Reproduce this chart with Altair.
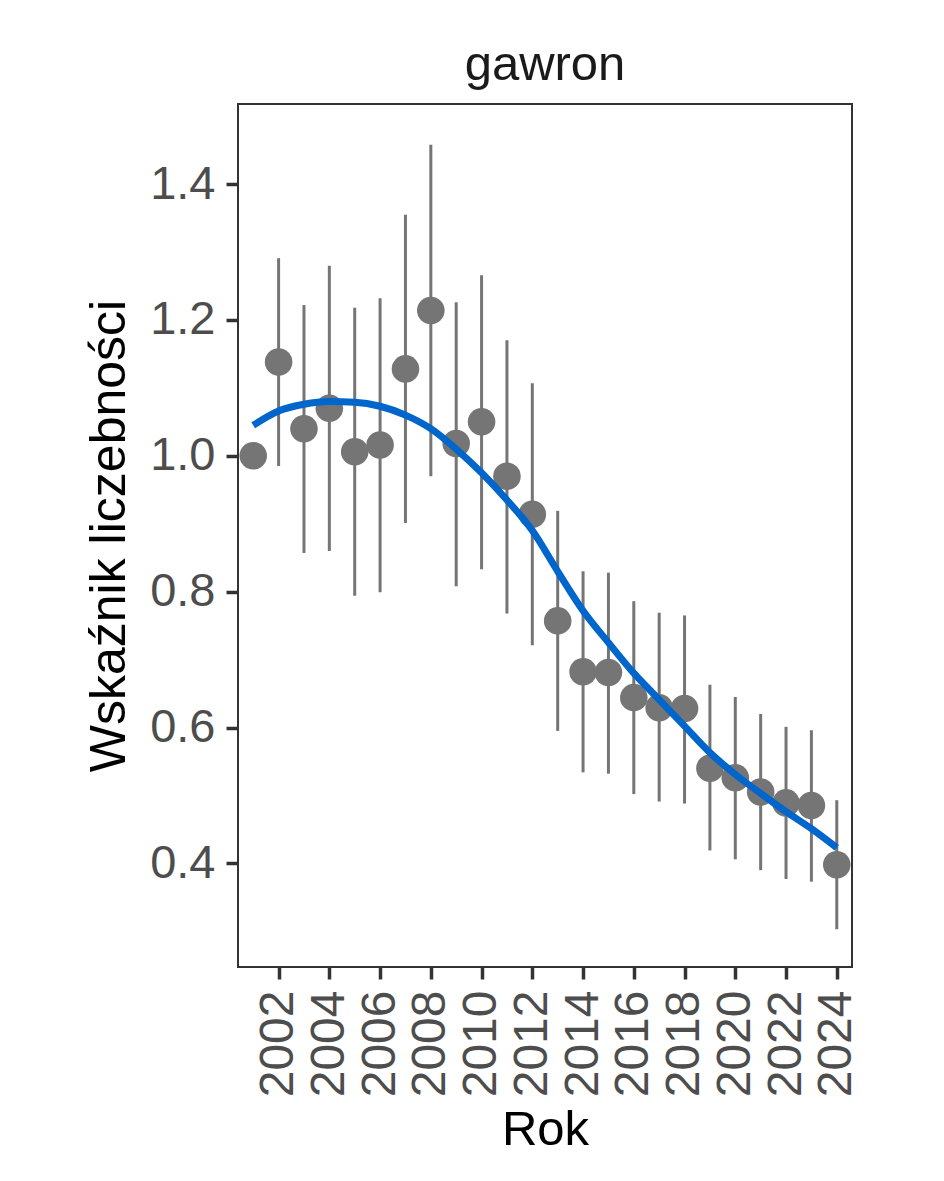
import altair as alt
import pandas as pd

years = list(range(2001, 2025))
index_vals = [1.000, 1.138, 1.040, 1.070, 1.006, 1.016, 1.128, 1.214, 1.018, 1.050,
              0.970, 0.914, 0.757, 0.682, 0.681, 0.644, 0.629, 0.628, 0.540, 0.526,
              0.505, 0.489, 0.485, 0.398]
lower = [None, 0.985, 0.857, 0.860, 0.794, 0.799, 0.901, 0.970, 0.808, 0.833,
         0.768, 0.721, 0.595, 0.534, 0.532, 0.502, 0.491, 0.488, 0.419, 0.406,
         0.390, 0.377, 0.373, 0.303]
upper = [None, 1.291, 1.222, 1.280, 1.218, 1.232, 1.355, 1.458, 1.226, 1.266,
         1.170, 1.107, 0.919, 0.830, 0.828, 0.786, 0.769, 0.765, 0.663, 0.645,
         0.620, 0.601, 0.596, 0.493]
trend = [1.045, 1.066, 1.076, 1.080, 1.079, 1.073, 1.060, 1.040, 1.010, 0.975,
         0.935, 0.890, 0.830, 0.772, 0.725, 0.680, 0.641, 0.602, 0.563, 0.531,
         0.503, 0.476, 0.451, 0.423]
x_ticks = list(range(2002, 2025, 2))
y_ticks = [0.4, 0.6, 0.8, 1.0, 1.2, 1.4]

df = pd.DataFrame({"Rok": years, "val": index_vals, "lo": lower, "hi": upper, "trend": trend})
bars_df = df.dropna(subset=["lo", "hi"])

FONT = "Liberation Sans"
GREY = "#757575"

xs = alt.Scale(domain=[2000.4, 2024.6], nice=False, zero=False)
ys = alt.Scale(domain=[0.2474, 1.518], nice=False, zero=False)

x_axis = alt.Axis(values=x_ticks, format="d", labelAngle=-90, title="Rok",
                  grid=False, domain=False, tickSize=12, tickWidth=3.5, tickColor="#333333",
                  labelFontSize=48, labelColor="#4D4D4D", labelFont=FONT, labelPadding=11,
                  titleFontSize=49, titleColor="#000000", titleFont=FONT, titleFontWeight="normal",
                  titlePadding=9)
y_axis = alt.Axis(values=y_ticks, format=".1f", title="Wskaźnik liczebności",
                  grid=False, domain=False, tickSize=12, tickWidth=3.5, tickColor="#333333",
                  labelFontSize=47, labelColor="#4D4D4D", labelFont=FONT, labelPadding=11,
                  titleFontSize=50, titleColor="#000000", titleFont=FONT, titleFontWeight="normal",
                  titlePadding=15)

base = alt.Chart(df)

bars = alt.Chart(bars_df).mark_rule(color=GREY, strokeWidth=3).encode(
    x=alt.X("Rok:Q", scale=xs, axis=x_axis),
    y=alt.Y("lo:Q", scale=ys, axis=y_axis),
    y2="hi:Q",
)

points = base.mark_circle(color=GREY, opacity=1, size=760).encode(
    x=alt.X("Rok:Q", scale=xs),
    y=alt.Y("val:Q", scale=ys),
)

line = base.mark_line(color="#0066CC", strokeWidth=7, interpolate="monotone").encode(
    x=alt.X("Rok:Q", scale=xs),
    y=alt.Y("trend:Q", scale=ys),
)

chart = alt.layer(bars, points, line).properties(
    width=614, height=863,
    title=alt.TitleParams("gawron", fontSize=49, font=FONT, color="#1A1A1A",
                          fontWeight="normal", anchor="middle", offset=14),
    autosize=alt.AutoSizeParams(type="none"),
    padding={"left": 230, "top": 96, "right": 70, "bottom": 190},
).configure(
    background="white",
    view=alt.ViewConfig(stroke="#333333", strokeWidth=2),
)

chart.save("out.html", embed_options={"renderer": "svg", "actions": False})
